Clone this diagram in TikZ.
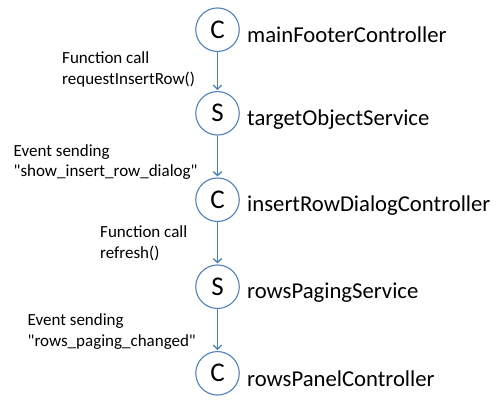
\documentclass[tikz,border=0pt]{standalone}
\usepackage{fontspec}
\setmainfont{Carlito}[Ligatures=TeXOff]
\usetikzlibrary{arrows.meta}
\definecolor{edge}{HTML}{4F81BD}
\definecolor{arr}{HTML}{4A7EBB}
\begin{document}
\begin{tikzpicture}[x=1pt,y=-1pt,
  comp/.style={circle,draw=edge,line width=1.1pt,fill=white,minimum size=43.5pt,inner sep=0pt,font=\fontsize{27}{30}\selectfont},
  lbl/.style={anchor=west,font=\fontsize{22.7}{26}\selectfont,inner sep=0pt},
  note/.style={anchor=west,align=left,font=\fontsize{17}{20.5}\selectfont,inner sep=0pt},
  flow/.style={draw=arr,line width=1.3pt,-{Straight Barb[length=4pt,width=8.5pt,line width=1.3pt]},shorten >=1pt}]
\useasboundingbox (0,0) rectangle (502,402);
\node[comp] (c1) at (217.5,29.7) {C};
\node[comp] (s1) at (217.5,113.3) {S};
\node[comp] (c2) at (217.5,199.7) {C};
\node[comp] (s2) at (217.5,286.7) {S};
\node[comp] (c3) at (217.5,373.3) {C};
\node[lbl] (l1) at (247,35) {mainFooterController};
\node[lbl] (l2) at (247,120) {targetObjectService};
\node[lbl] (l3) at (247,206) {insertRowDialogController};
\node[lbl] (l4) at (247,293) {rowsPagingService};
\node[lbl] (l5) at (247,379) {rowsPanelController};
\draw[flow] (c1) -- (s1);
\draw[flow] (s1) -- (c2);
\draw[flow] (c2) -- (s2);
\draw[flow] (s2) -- (c3);
\node[note] (n1) at (62,69.5) {Function call\\requestInsertRow()};
\node[note] (n2) at (13.5,162) {Event sending\\"show\_insert\_row\_dialog"};
\node[note] (n3) at (100,243.5) {Function call\\refresh()};
\node[note] (n4) at (27.5,331.5) {Event sending\\"rows\_paging\_changed"};
\end{tikzpicture}
\end{document}
